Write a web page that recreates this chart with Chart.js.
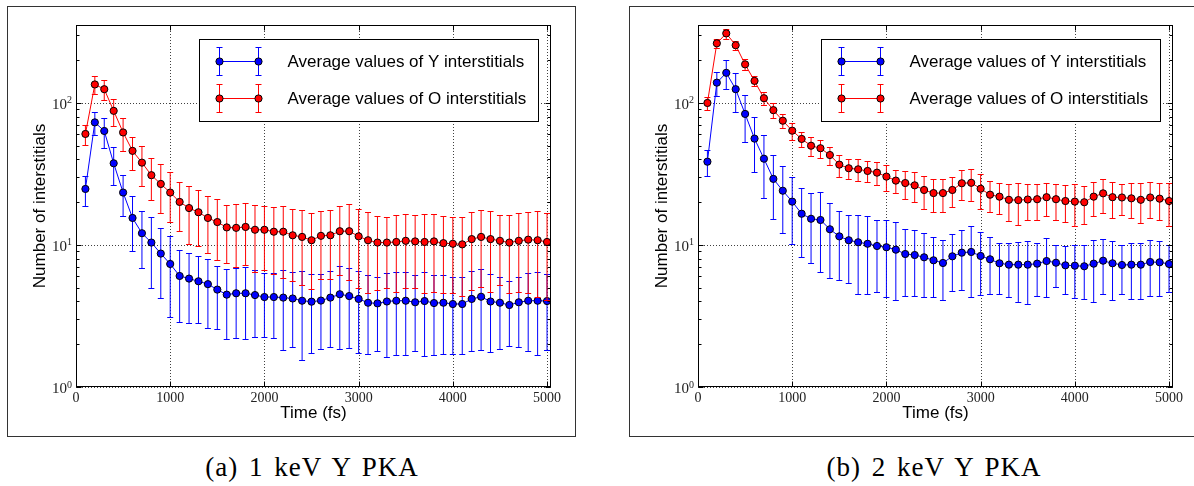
<!DOCTYPE html>
<html>
<head>
<meta charset="utf-8">
<script src="https://cdn.jsdelivr.net/npm/chart.js@4.4.1/dist/chart.umd.min.js"></script>
<style>
  html, body { margin: 0; padding: 0; background: #fff; }
  body { position: relative; width: 1194px; height: 486px; overflow: hidden; }
  .panel { position: absolute; top: 6px; height: 431px; }
  .frame { position: absolute; top: 6px; height: 431px; border: 1px solid #333; box-sizing: border-box; pointer-events: none; }
  .caption { position: absolute; top: 452px; width: 400px; height: 30px; line-height: 30px; text-align: center;
             font-family: "Liberation Serif", serif; font-size: 27px; letter-spacing: 1px; word-spacing: 3px; color: #000; }
</style>
</head>
<body>
<div class="panel" style="left:7px; width:568px;"><canvas id="c1" width="568" height="431"></canvas></div>
<div class="panel" style="left:629px; width:565px;"><canvas id="c2" width="565" height="431"></canvas></div>
<div class="frame" style="left:7px; width:569px;"></div>
<div class="frame" style="left:629px; width:580px;"></div>
<div class="caption" style="left:112px;">(a) 1 keV Y PKA</div>
<div class="caption" style="left:734px;">(b) 2 keV Y PKA</div>

<script>
// Simulation output times (fs)
const TIMES = [100,200,300,400,500,600,700,800,900,1000,
               1100,1200,1300,1400,1500,1600,1700,1800,1900,2000,
               2100,2200,2300,2400,2500,2600,2700,2800,2900,3000,
               3100,3200,3300,3400,3500,3600,3700,3800,3900,4000,
               4100,4200,4300,4400,4500,4600,4700,4800,4900,5000];

// 1 keV Y PKA: average interstitial counts and standard deviations
const Y_MEAN_1KEV = [24.8,73,63.5,37.6,23.4,15.5,12.1,10.4,8.7,7.35,
                     6.05,5.8,5.55,5.3,4.85,4.47,4.57,4.57,4.44,4.3,
                     4.3,4.26,4.2,4.05,3.99,4.06,4.26,4.5,4.37,4.17,
                     3.92,3.88,4.0,4.05,4.05,3.95,4.03,3.9,3.92,3.84,
                     3.84,4.17,4.32,4.0,3.92,3.78,3.95,4.05,4.05,4.03];
const Y_ERR_1KEV  = [5.9,13.7,15,11,7.5,6.5,5.2,5.4,4.5,4.25,
                     3.2,3.0,2.75,2.7,2.3,2.3,2.35,2.4,2.2,2.05,
                     2.1,2.45,2.3,2.5,2.26,2.2,2.34,2.65,2.48,2.43,
                     2.2,2.1,2.38,2.37,2.37,2.17,2.39,2.22,2.2,2.14,
                     2.14,2.39,2.49,2.25,2.06,1.83,2.03,2.25,2.37,2.22];
const O_MEAN_1KEV = [60.5,135,125,88,62,46,38,31,26.9,23.4,
                     20.1,18.2,17.0,15.5,14.5,13.3,13.2,13.4,12.8,12.8,
                     12.4,12.4,11.7,11.4,10.8,11.6,11.7,12.5,12.5,11.5,
                     10.8,10.4,10.4,10.5,10.7,10.6,10.5,10.6,10.3,10.2,
                     10.1,11.0,11.4,11.0,10.7,10.4,10.7,10.9,10.8,10.5];
const O_ERR_1KEV  = [10,19.5,20.5,19,16,12,12,10.2,10,9,
                     7.6,8,7.2,6.7,6.6,5.8,6.2,6.2,6.3,6.1,
                     6.2,6.5,6.1,6.2,5.9,5.8,5.9,6.4,6.8,6.5,
                     6.2,5.6,5.4,5.8,5.7,5.6,5.9,5.9,5.7,5.6,
                     5.7,6.2,6.3,6.3,5.5,5.8,6.0,6.3,6.5,6.4];

// 2 keV Y PKA
const Y_MEAN_2KEV = [38.6,139,163,125,83.7,56.1,40.5,29.2,24.1,20.2,
                     16.6,15.3,15.0,12.9,11.5,10.8,10.45,10.2,9.84,9.64,
                     9.27,8.64,8.5,8.19,7.8,7.47,8.32,8.83,8.93,8.37,
                     7.93,7.43,7.27,7.27,7.27,7.39,7.71,7.5,7.19,7.15,
                     7.08,7.39,7.75,7.43,7.23,7.27,7.27,7.59,7.55,7.35];
const Y_ERR_2KEV  = [7.8,27.5,38.5,38,30.5,23.5,19,14,12,10.1,
                     8.4,7.8,8.5,7,5.8,5.4,5.9,5.7,5.2,5.36,
                     5.2,4.25,4.15,3.9,3.5,3.4,3.6,4.0,4.6,3.9,
                     3.4,2.9,3.0,3.3,3.4,3.0,3.4,2.45,2.7,2.9,
                     2.9,3.4,3.25,3.3,2.7,3.1,3.1,3.2,3.15,2.65];
const O_MEAN_2KEV = [100,263,309,255,187,143,108,89,75,63.8,
                     55.8,50,48,43,36.8,34.7,34.1,33.2,32.3,30.3,
                     28.4,27.3,26.3,24.4,23.2,23.2,24.4,27.2,27.4,24.9,
                     22.6,21.9,20.8,20.7,20.9,21.0,21.7,21.0,20.4,20.2,
                     20.0,21.9,23.1,21.7,21.6,21.3,20.8,21.6,21.2,20.4];
const O_ERR_2KEV  = [10.3,20,25,18.5,15.5,12,11.6,10.2,8.7,8.7,
                     6.9,7.9,6.7,6.3,6.5,5.7,5.9,5.6,6,6.3,
                     5.3,6.1,6.1,6.4,6.1,6.1,5.9,6.6,7.1,6.9,
                     5.6,5.3,6.1,6.8,5.9,5.9,5.8,6.0,5.9,6.7,
                     6.0,6.0,6.2,6.2,5.4,5.9,6.5,6.0,6.3,6.8];

// Axis ticks and labels
const X_TICKS = [0,1000,2000,3000,4000,5000];
const Y_DECADES = [0,1,2];
const Y_MINOR = [2,3,4,5,6,7,8,9,20,30,40,50,60,70,80,90,200,300];
const SERIES_LABELS = ['Average values of Y interstitials', 'Average values of O interstitials'];
const SERIES_COLORS = ['#0000ff', '#ff0000'];
const X_TITLE = 'Time (fs)';
const Y_TITLE = 'Number of interstitials';

const SANS = '"Liberation Sans", Arial, sans-serif';
const SERIF = '"Liberation Serif", "Times New Roman", serif';

function drawMarker(ctx, x, y, color) {
  ctx.beginPath();
  ctx.arc(x, y, 3.6, 0, Math.PI * 2);
  ctx.fillStyle = color;
  ctx.fill();
  ctx.lineWidth = 1;
  ctx.strokeStyle = '#000';
  ctx.stroke();
}

function drawErrorBar(ctx, x, yTop, yBot, color) {
  ctx.strokeStyle = color;
  ctx.lineWidth = 1;
  ctx.beginPath();
  ctx.moveTo(x, yTop); ctx.lineTo(x, yBot);
  ctx.moveTo(x - 3, yTop); ctx.lineTo(x + 3, yTop);
  ctx.moveTo(x - 3, yBot); ctx.lineTo(x + 3, yBot);
  ctx.stroke();
}

// Vertical error bars drawn just before each dataset's line and markers
const errorBarPlugin = {
  id: 'errorBars',
  beforeDatasetDraw(chart, args) {
    const ds = chart.data.datasets[args.index];
    if (!ds.errors) return;
    const { ctx, chartArea: a } = chart;
    const xs = chart.scales.x, ys = chart.scales.y;
    ctx.save();
    ctx.beginPath();
    ctx.rect(a.left, a.top, a.right - a.left, a.bottom - a.top);
    ctx.clip();
    ds.data.forEach((p, i) => {
      const e = ds.errors[i];
      const px = xs.getPixelForValue(p.x);
      const top = ys.getPixelForValue(p.y + e);
      const bot = ys.getPixelForValue(Math.max(p.y - e, 0.5));
      drawErrorBar(ctx, px, Math.round(top) + 0.5, Math.round(bot) + 0.5, ds.borderColor);
    });
    ctx.restore();
  }
};

// Dotted grid, inward ticks, frame, tick labels, titles and legend
const axesPlugin = {
  id: 'axesDecor',
  beforeDatasetsDraw(chart) {
    const { ctx, chartArea: a } = chart;
    const xs = chart.scales.x, ys = chart.scales.y;
    ctx.save();
    ctx.strokeStyle = 'rgba(0,0,0,0.75)';
    ctx.lineWidth = 1;
    ctx.setLineDash([1, 2]);
    X_TICKS.forEach(v => {
      const x = Math.round(xs.getPixelForValue(v)) + 0.5;
      ctx.beginPath(); ctx.moveTo(x, a.top); ctx.lineTo(x, a.bottom); ctx.stroke();
    });
    Y_DECADES.forEach(d => {
      const y = Math.round(ys.getPixelForValue(Math.pow(10, d))) + 0.5;
      ctx.beginPath(); ctx.moveTo(a.left, y); ctx.lineTo(a.right, y); ctx.stroke();
    });
    ctx.restore();
  },
  afterDatasetsDraw(chart) {
    const { ctx, chartArea: a } = chart;
    const xs = chart.scales.x, ys = chart.scales.y;
    ctx.save();
    ctx.strokeStyle = '#000';
    ctx.lineWidth = 1;
    ctx.setLineDash([]);
    const L = a.left + 0.5, R = Math.round(a.right) - 0.5, T = a.top + 0.5, B = Math.round(a.bottom) - 0.5;
    ctx.strokeRect(L, T, R - L, B - T);

    // inward tick marks on all four sides
    ctx.beginPath();
    X_TICKS.forEach(v => {
      const x = Math.round(xs.getPixelForValue(v)) + 0.5;
      ctx.moveTo(x, B); ctx.lineTo(x, B - 5);
      ctx.moveTo(x, T); ctx.lineTo(x, T + 5);
    });
    Y_DECADES.forEach(d => {
      const y = Math.round(ys.getPixelForValue(Math.pow(10, d))) + 0.5;
      ctx.moveTo(L, y); ctx.lineTo(L + 5, y);
      ctx.moveTo(R, y); ctx.lineTo(R - 5, y);
    });
    Y_MINOR.forEach(v => {
      if (v > ys.max) return;
      const y = Math.round(ys.getPixelForValue(v)) + 0.5;
      ctx.moveTo(L, y); ctx.lineTo(L + 3, y);
      ctx.moveTo(R, y); ctx.lineTo(R - 3, y);
    });
    ctx.stroke();

    // tick labels
    ctx.fillStyle = '#222';
    ctx.font = '14px ' + SERIF;
    ctx.textAlign = 'center';
    ctx.textBaseline = 'alphabetic';
    X_TICKS.forEach(v => {
      ctx.fillText(String(v), xs.getPixelForValue(v), a.bottom + 15);
    });
    Y_DECADES.forEach(d => {
      const y = ys.getPixelForValue(Math.pow(10, d));
      ctx.font = '10px ' + SERIF;
      const exp = String(d);
      const we = ctx.measureText(exp).width;
      ctx.textAlign = 'right';
      ctx.fillText(exp, a.left - 4, y + 0.5);
      ctx.font = '15px ' + SERIF;
      ctx.fillText('10', a.left - 4 - we, y + 6);
    });

    // axis titles
    ctx.fillStyle = '#000';
    ctx.font = '17px ' + SANS;
    ctx.textAlign = 'center';
    ctx.textBaseline = 'middle';
    ctx.fillText(X_TITLE, (a.left + a.right) / 2, a.bottom + 26);
    ctx.save();
    ctx.translate(a.left - 36, (a.top + a.bottom) / 2);
    ctx.rotate(-Math.PI / 2);
    ctx.fillText(Y_TITLE, 0, 0);
    ctx.restore();

    // legend box, upper right
    const bw = 339, bh = 82;
    const bx = Math.round(a.right) - 13 - bw + 0.5, by = a.top + 14 + 0.5;
    ctx.fillStyle = '#fff';
    ctx.fillRect(bx, by, bw, bh);
    ctx.strokeStyle = '#000';
    ctx.strokeRect(bx, by, bw, bh);
    chart.data.datasets.forEach((ds, i) => {
      const ry = Math.round(by + 21 + i * 37) + 0.5;
      const x1 = Math.round(bx + 19) + 0.5, x2 = Math.round(bx + 58) + 0.5;
      drawErrorBar(ctx, x1, ry - 14, ry + 14, ds.borderColor);
      drawErrorBar(ctx, x2, ry - 14, ry + 14, ds.borderColor);
      ctx.strokeStyle = ds.borderColor;
      ctx.beginPath(); ctx.moveTo(x1, ry); ctx.lineTo(x2, ry); ctx.stroke();
      drawMarker(ctx, x1, ry, ds.borderColor);
      drawMarker(ctx, x2, ry, ds.borderColor);
      ctx.fillStyle = '#000';
      ctx.font = '17px ' + SANS;
      ctx.textAlign = 'left';
      ctx.textBaseline = 'middle';
      ctx.fillText(ds.label, bx + 88, ry + 0.5);
    });
    ctx.restore();
  }
};

function seriesPoints(means) {
  return TIMES.map((t, i) => ({ x: t, y: means[i] }));
}

function makeDataset(label, color, means, errors, order) {
  return {
    label: label,
    data: seriesPoints(means),
    errors: errors,
    order: order,
    borderColor: color,
    backgroundColor: color,
    borderWidth: 1,
    pointRadius: 3.6,
    pointBackgroundColor: color,
    pointBorderColor: '#000',
    pointBorderWidth: 1,
    tension: 0,
    clip: 4
  };
}

function makeChart(id, yMean, yErr, oMean, oErr, padRight) {
  return new Chart(document.getElementById(id), {
    type: 'line',
    data: {
      datasets: [
        makeDataset(SERIES_LABELS[0], SERIES_COLORS[0], yMean, yErr, 1),
        makeDataset(SERIES_LABELS[1], SERIES_COLORS[1], oMean, oErr, 0)
      ]
    },
    options: {
      responsive: false,
      animation: false,
      events: [],
      devicePixelRatio: 1,
      layout: { padding: { left: 69, top: 19, right: padRight, bottom: 50 } },
      plugins: { legend: { display: false }, tooltip: { enabled: false }, title: { display: false } },
      scales: {
        x: { type: 'linear', min: 0, max: 5042, bounds: 'data', display: false },
        y: { type: 'logarithmic', min: 1, max: 354, display: false }
      }
    },
    plugins: [errorBarPlugin, axesPlugin]
  });
}

makeChart('c1', Y_MEAN_1KEV, Y_ERR_1KEV, O_MEAN_1KEV, O_ERR_1KEV, 24);
makeChart('c2', Y_MEAN_2KEV, Y_ERR_2KEV, O_MEAN_2KEV, O_ERR_2KEV, 21);
</script>
</body>
</html>
